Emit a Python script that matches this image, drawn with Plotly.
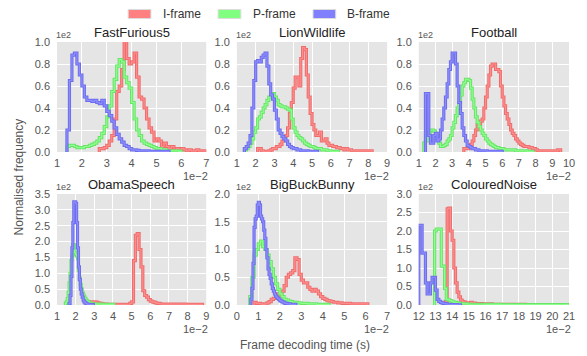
import numpy as np
import plotly.graph_objects as go

# ---------------- data (x in units of 1e-2 s, y in units of 1e2) ----------------
PANELS = ["FastFurious5", "LionWildlife", "Football", "ObamaSpeech", "BigBuckBunny", "ColouredNoise"]
FRAMES = ["I-frame", "P-frame", "B-frame"]

X_RANGES = [(1, 7), (1, 9), (1, 10), (1, 9), (0, 7), (12, 21)]
Y_RANGES = [(0, 1.0), (0, 1.0), (0, 1.0), (0, 3.5), (0, 2.0), (0, 3.0)]
Y_DTICKS = [0.2, 0.2, 0.2, 0.5, 0.5, 0.5]

# FastFurious5
FF_I = [0.03, 0.03, 0.04, 0.06, 0.1, 0.15, 0.3, 0.55, 0.6, 0.75, 1.0, 0.85, 0.8, 0.82, 0.9, 0.68,
        0.5, 0.48, 0.4, 0.3, 0.22, 0.18, 0.1, 0.12, 0.1, 0.05, 0.08, 0.05, 0.03, 0.05, 0.02, 0.03,
        0.02, 0.03, 0.02, 0.01, 0.02, 0.01, 0.01, 0.02, 0.01, 0.01, 0.01]
FF_P = [0.05, 0.06, 0.06, 0.05, 0.04, 0.04, 0.04, 0.05, 0.05, 0.06, 0.07, 0.08, 0.1, 0.13, 0.17,
        0.23, 0.32, 0.42, 0.55, 0.66, 0.78, 0.84, 0.82, 0.68, 0.63, 0.58, 0.45, 0.3, 0.2, 0.15,
        0.1, 0.08, 0.07, 0.06, 0.05, 0.04, 0.03, 0.03, 0.02, 0.02, 0.01, 0.01, 0.01, 0.01, 0.01, 0.005]
FF_B = [0.2, 0.65, 0.88, 0.9, 0.8, 0.7, 0.6, 0.5, 0.47, 0.47, 0.46, 0.47, 0.45, 0.44, 0.47, 0.42,
        0.37, 0.33, 0.28, 0.22, 0.16, 0.12, 0.09, 0.06, 0.05, 0.03, 0.02, 0.02, 0.015, 0.01, 0.01,
        0.01, 0.01, 0.005, 0.005, 0.005, 0.005, 0.005, 0.005, 0.005, 0.005]

# LionWildlife
LW_I = [0.03, 0.03, 0.01, 0.005, 0.005, 0.005, 0.01, 0.02, 0.03, 0.03, 0.05, 0.05, 0.07, 0.1, 0.12,
        0.15, 0.22, 0.35, 0.45, 0.58, 0.68, 0.68, 0.6, 0.85, 0.95, 0.93, 0.7, 0.5, 0.35, 0.25, 0.2,
        0.15, 0.15, 0.18, 0.1, 0.1, 0.12, 0.08, 0.06, 0.06, 0.05, 0.05, 0.04, 0.04, 0.03, 0.03, 0.02,
        0.03, 0.02, 0.02, 0.01, 0.01, 0.01, 0.01, 0.01, 0.01, 0.01, 0.01, 0.01, 0.01, 0.01]
LW_P = [0.02, 0.03, 0.05, 0.08, 0.12, 0.18, 0.22, 0.3, 0.32, 0.36, 0.4, 0.43, 0.47, 0.5, 0.52, 0.53,
        0.5, 0.47, 0.43, 0.42, 0.41, 0.41, 0.4, 0.39, 0.38, 0.3, 0.22, 0.18, 0.15, 0.13, 0.12, 0.1,
        0.08, 0.07, 0.06, 0.05, 0.05, 0.04, 0.03, 0.03, 0.03, 0.02, 0.02, 0.02, 0.01, 0.01, 0.005,
        0.005, 0.005, 0.005]
LW_B = [0.03, 0.05, 0.08, 0.15, 0.4, 0.65, 0.82, 0.83, 0.82, 0.86, 0.88, 0.9, 0.78, 0.62, 0.52, 0.48,
        0.38, 0.3, 0.2, 0.17, 0.14, 0.12, 0.1, 0.07, 0.05, 0.04, 0.03, 0.03, 0.02, 0.02, 0.01, 0.01,
        0.01, 0.01, 0.005, 0.005, 0.005, 0.005, 0.005]

# Football
FB_I = [0.03, 0.03, 0.03, 0.05, 0.07, 0.1, 0.15, 0.2, 0.25, 0.25, 0.28, 0.3, 0.4, 0.5, 0.6, 0.7,
        0.78, 0.8, 0.8, 0.75, 0.75, 0.73, 0.6, 0.5, 0.42, 0.35, 0.3, 0.25, 0.2, 0.17, 0.15, 0.12,
        0.1, 0.08, 0.07, 0.06, 0.05, 0.05, 0.05, 0.04, 0.04, 0.03, 0.03, 0.02]
FB_I_TAIL = [0.01, 0.01, 0.01, 0.01, 0.01, 0.01, 0.01, 0.02]
FB_P = [0.08, 0.1, 0.15, 0.18, 0.2, 0.2, 0.19, 0.15, 0.12, 0.08, 0.05, 0.05, 0.06, 0.07, 0.1, 0.12,
        0.15, 0.22, 0.27, 0.33, 0.4, 0.45, 0.52, 0.6, 0.63, 0.66, 0.66, 0.65, 0.58, 0.48, 0.4, 0.32,
        0.27, 0.23, 0.2, 0.17, 0.15, 0.12, 0.1, 0.08, 0.07, 0.06, 0.05, 0.04, 0.04, 0.03, 0.03, 0.03]
FB_P_TAIL = [0.02, 0.02, 0.01, 0.01, 0.005]
FB_B = [0.53, 0.53, 0.15, 0.08, 0.08, 0.15, 0.17, 0.1, 0.12, 0.2, 0.3, 0.4, 0.5, 0.62, 0.75, 0.82,
        0.9, 0.9, 0.8, 0.6, 0.45, 0.35, 0.22, 0.15, 0.1, 0.06, 0.05, 0.04, 0.03, 0.03, 0.02, 0.02,
        0.01, 0.01, 0.01, 0.01, 0.01, 0.005, 0.005, 0.005, 0.005, 0.005, 0.005, 0.005, 0.005, 0.005]

# ObamaSpeech
OS_I = [0.05, 0.08, 0.1, 0.1, 0.1, 0.08, 0.06, 0.05, 0.04, 0.03, 0.03, 0.02, 0.02, 0.02, 0.02, 0.02,
        0.02, 0.02, 0.02, 0.02, 0.02, 0.02, 0.02, 0.05, 0.1, 1.4, 2.2, 2.25, 1.75, 1.2, 0.45, 0.3,
        0.25, 0.17, 0.12, 0.1, 0.08, 0.06, 0.05, 0.04]
OS_I_TAIL = [0.03, 0.03, 0.03, 0.02, 0.02]
OS_P = [0.05, 0.1, 0.2, 0.4, 0.7, 1.0, 1.4, 1.55, 1.9, 1.9, 1.65, 1.6, 1.55, 1.45, 1.1, 0.85, 0.65,
        0.5, 0.4, 0.32, 0.25, 0.2, 0.15, 0.12, 0.1, 0.08, 0.06, 0.05]
OS_P_TAIL = [0.04, 0.04, 0.03, 0.03, 0.03, 0.03, 0.02, 0.02, 0.02, 0.02, 0.02, 0.02]
OS_B = [0.05, 0.3, 0.9, 1.8, 2.6, 3.25, 3.25, 3.2, 2.6, 1.8, 1.2, 0.8, 0.5, 0.35, 0.25, 0.15, 0.1,
        0.07, 0.05, 0.03, 0.02, 0.02, 0.01, 0.01, 0.01, 0.01]

# BigBuckBunny
BB_I = [0.05, 0.03, 0.03, 0.02, 0.01, 0.02, 0.04, 0.06, 0.1, 0.12, 0.15, 0.2, 0.15, 0.25, 0.35, 0.5,
        0.55, 0.58, 0.62, 0.85, 0.82, 0.55, 0.45, 0.4, 0.4, 0.32, 0.28, 0.25, 0.28, 0.25, 0.2, 0.15,
        0.12, 0.1, 0.08, 0.07, 0.06, 0.05, 0.05, 0.04, 0.04, 0.03, 0.03, 0.03, 0.03, 0.02, 0.02,
        0.02, 0.02, 0.02, 0.02, 0.02, 0.02]
BB_P = [0.15, 0.5, 0.9, 1.0, 1.1, 1.15, 1.05, 1.0, 0.9, 0.78, 0.65, 0.5, 0.38, 0.28, 0.2, 0.15, 0.1,
        0.09, 0.07, 0.06, 0.05, 0.05, 0.04, 0.04, 0.03, 0.03, 0.03, 0.02, 0.02, 0.02, 0.02, 0.01,
        0.01, 0.01, 0.01, 0.01, 0.01]
BB_B = [0.1, 0.3, 0.75, 1.4, 1.55, 1.6, 1.8, 1.85, 1.8, 1.6, 1.55, 1.5, 1.35, 1.2, 1.0, 0.85, 0.65,
        0.55, 0.48, 0.38, 0.3, 0.25, 0.2, 0.16, 0.14, 0.12, 0.1, 0.08, 0.07, 0.06, 0.05, 0.04, 0.03,
        0.03, 0.02, 0.02, 0.02, 0.01, 0.01, 0.01, 0.01, 0.01]

# ColouredNoise
CN_I = [0.1, 2.6, 2.62, 2.0, 1.75, 1.0, 0.6, 0.35, 0.22, 0.13, 0.09, 0.08, 0.06, 0.05, 0.06, 0.07]
CN_I_TAIL = [0.05, 0.04, 0.04, 0.03, 0.03, 0.03, 0.02, 0.02, 0.02, 0.02, 0.02, 0.02, 0.02, 0.02,
             0.02, 0.02]
CN_P = [2.0, 2.05, 2.05, 2.05, 1.05, 1.05, 0.45, 0.15, 0.14, 0.12, 0.1, 0.08, 0.07, 0.06, 0.05,
        0.04, 0.04, 0.03, 0.03, 0.03]
CN_P_TAIL = [0.02, 0.02, 0.015, 0.015, 0.01, 0.01, 0.01, 0.01, 0.01, 0.01, 0.01, 0.01]
CN_B = [2.15, 2.15, 1.4, 1.4, 0.6, 0.3, 0.3, 0.6, 0.75, 0.75, 0.4, 0.15, 0.1, 0.07, 0.05, 0.04,
        0.03, 0.02, 0.02, 0.01, 0.01, 0.01, 0.01, 0.005, 0.005]

# bins per series: list of (first edge, bin width, heights)
SERIES = {
    (0, "I-frame"): [(2.7, 0.1, FF_I)],
    (0, "P-frame"): [(1.4, 0.1, FF_P)],
    (0, "B-frame"): [(1.4, 0.1, FF_B)],
    (1, "I-frame"): [(2.1, 0.1, LW_I)],
    (1, "P-frame"): [(1.4, 0.1, LW_P)],
    (1, "B-frame"): [(1.4, 0.1, LW_B)],
    (2, "I-frame"): [(3.7, 0.1, FB_I), (8.1, 0.175, FB_I_TAIL)],
    (2, "P-frame"): [(1.3, 0.1, FB_P), (6.1, 0.35, FB_P_TAIL)],
    (2, "B-frame"): [(1.4, 0.1, FB_B)],
    (3, "I-frame"): [(2.6, 0.1, OS_I), (6.6, 0.44, OS_I_TAIL)],
    (3, "P-frame"): [(1.45, 0.05, OS_P), (2.85, 0.1, OS_P_TAIL)],
    (3, "B-frame"): [(1.65, 0.05, OS_B)],
    (4, "I-frame"): [(0.8, 0.1, BB_I)],
    (4, "P-frame"): [(0.6, 0.1, BB_P)],
    (4, "B-frame"): [(0.65, 0.05, BB_B)],
    (5, "I-frame"): [(13.6, 0.1, CN_I), (15.2, 0.2, CN_I_TAIL)],
    (5, "P-frame"): [(12.95, 0.1, CN_P), (14.95, 0.5, CN_P_TAIL)],
    (5, "B-frame"): [(12.0, 0.1, CN_B)],
}

LINE_COLORS = {"I-frame": "rgb(238,110,110)", "P-frame": "rgb(105,228,105)",
               "B-frame": "rgb(110,110,236)"}
INNER_COLORS = {"I-frame": "rgb(255,140,140)", "P-frame": "rgb(140,255,140)",
                "B-frame": "rgb(140,140,255)"}
PATCH_COLORS = {"I-frame": "#ff8080", "P-frame": "#80ff80", "B-frame": "#8080ff"}

# ---------------- layout helpers ----------------
# the page body adds an 8 px margin; all pixel positions below are page pixels
OFF = 8
PAGE_W, PAGE_H = 587, 356
W, H = PAGE_W - OFF, PAGE_H - OFF
COL_PX = [(57, 208), (239, 391), (423, 575)]
ROW_PX = [(42, 152), (194, 305)]
ML = COL_PX[0][0] - OFF
MR = PAGE_W - COL_PX[2][1]
MT = ROW_PX[0][0] - OFF
MB = PAGE_H - ROW_PX[1][1]
PW, PH = W - ML - MR, H - MT - MB


def px_x(px):
    return (px - OFF - ML) / PW


def px_y(py):
    return (H - MB - (py - OFF)) / PH


def step_xy(segments):
    xs, ys = [], []
    last_edge = None
    for start, width, heights in segments:
        edges = [round(start + width * i, 6) for i in range(len(heights) + 1)]
        for e, h in zip(edges[:-1], heights):
            if not xs:
                xs.append(e)
                ys.append(0.0)
            xs.append(e)
            ys.append(h)
        last_edge = edges[-1]
    xs += [last_edge, last_edge]
    ys += [ys[-1], 0.0]
    return xs, ys


FONT = "Liberation Sans, Arial, sans-serif"
fig = go.Figure()

layout = dict(width=W, height=H, margin=dict(l=ML, r=MR, t=MT, b=MB, pad=0),
              paper_bgcolor="white", plot_bgcolor="#e5e5e5", showlegend=False,
              font=dict(family=FONT, size=11, color="#555555"))
annotations = []
shapes = []

for p, name in enumerate(PANELS):
    r, c = divmod(p, 3)
    ax = "" if p == 0 else str(p + 1)
    x0, x1 = COL_PX[c]
    y0, y1 = ROW_PX[r]
    layout["xaxis" + ax] = dict(domain=[px_x(x0), px_x(x1)], anchor="y" + ax,
                                range=list(X_RANGES[p]), dtick=1, tick0=0,
                                showgrid=True, gridcolor="white", gridwidth=1,
                                zeroline=False, showline=False, ticks="",
                                ticklabelstandoff=3,
                                tickfont=dict(size=11, color="#555555"))
    layout["yaxis" + ax] = dict(domain=[px_y(y1), px_y(y0)], anchor="x" + ax,
                                range=list(Y_RANGES[p]), dtick=Y_DTICKS[p], tick0=0,
                                tickformat=".1f", showgrid=True, gridcolor="white", gridwidth=1,
                                zeroline=False, showline=False, ticks="",
                                ticklabelstandoff=6,
                                tickfont=dict(size=11, color="#555555"))
    for fr in FRAMES:
        xs, ys = step_xy(SERIES[(p, fr)])
        fig.add_trace(go.Scatter(x=xs, y=ys, mode="lines", line_shape="hv",
                                 line=dict(color=LINE_COLORS[fr], width=3.2),
                                 xaxis="x" + ax, yaxis="y" + ax, name=fr,
                                 hoverinfo="skip"))
        fig.add_trace(go.Scatter(x=xs, y=ys, mode="lines", line_shape="hv",
                                 line=dict(color=INNER_COLORS[fr], width=1.2),
                                 xaxis="x" + ax, yaxis="y" + ax, name=fr,
                                 hoverinfo="skip"))
    # subplot title
    annotations.append(dict(text=name, x=px_x((x0 + x1) / 2), y=px_y(y0), xref="paper",
                            yref="paper", xanchor="center", yanchor="bottom", showarrow=False,
                            yshift=0, font=dict(size=13, color="#222222")))
    # y offset text
    annotations.append(dict(text="1e2", x=px_x(x0), y=px_y(y0), xref="paper", yref="paper",
                            xanchor="left", yanchor="bottom", showarrow=False, xshift=-3,
                            yshift=0, font=dict(size=9, color="#555555")))
    # x offset text
    annotations.append(dict(text="1e\u22122", x=px_x(x1), y=px_y(y1), xref="paper", yref="paper",
                            xanchor="right", yanchor="middle", showarrow=False, xshift=4,
                            yshift=-24, font=dict(size=11, color="#555555")))

# axis labels
annotations.append(dict(text="Frame decoding time (s)", x=px_x(308), y=px_y(345), xref="paper",
                        yref="paper", xanchor="center", yanchor="middle", showarrow=False,
                        font=dict(size=12, color="#555555")))
annotations.append(dict(text="Normalised frequency", x=px_x(19), y=px_y(177), xref="paper",
                        yref="paper", xanchor="center", yanchor="middle", showarrow=False,
                        textangle=-90, font=dict(size=12, color="#555555")))

# legend (patches + labels)
LEG_PX = {"I-frame": (129, 162), "P-frame": (220, 253), "B-frame": (316, 348)}
for fr in FRAMES:
    rx, tx = LEG_PX[fr]
    shapes.append(dict(type="rect", xref="paper", yref="paper", x0=px_x(rx), x1=px_x(rx + 23),
                       y0=px_y(18.5), y1=px_y(9.5), fillcolor=PATCH_COLORS[fr],
                       line=dict(color="rgba(220,220,220,1)", width=1)))
    annotations.append(dict(text=fr, x=px_x(tx), y=px_y(14), xref="paper", yref="paper",
                            xanchor="left", yanchor="middle", showarrow=False,
                            font=dict(size=12, color="#333333")))

layout["annotations"] = annotations
layout["shapes"] = shapes
fig.update_layout(**layout)
fig.write_html("out.html")
